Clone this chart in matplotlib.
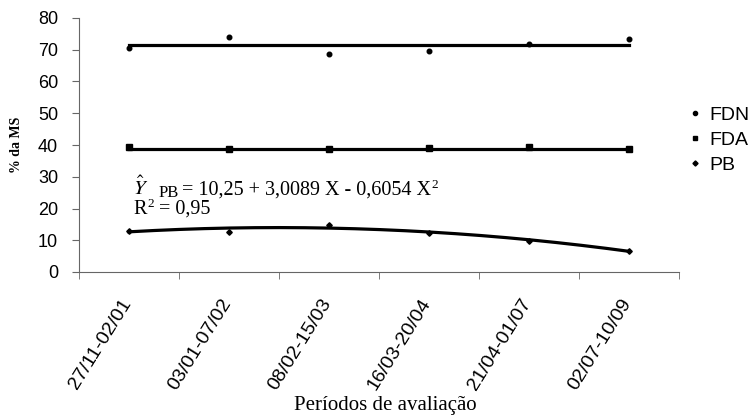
import matplotlib
matplotlib.use("Agg")
import matplotlib.pyplot as plt
from matplotlib.lines import Line2D
from matplotlib.transforms import ScaledTranslation, IdentityTransform
import numpy as np

plt.rcParams['font.family'] = ['Liberation Sans', 'DejaVu Sans']
plt.rcParams['mathtext.fontset'] = 'stix'

periods = ["27/11-02/01", "03/01-07/02", "08/02-15/03", "16/03-20/04", "21/04-01/07", "02/07-10/09"]
fdn = [70.6, 74.1, 68.8, 69.5, 71.7, 73.4]
fda = [39.5, 38.6, 38.7, 38.9, 39.3, 38.7]
pb = [13.0, 12.7, 14.7, 12.4, 9.9, 6.5]
fdn_mean = 71.4
fda_mean = 38.7
pb_coef = [10.25, 3.0089, -0.6054]
y_ticks = [0, 10, 20, 30, 40, 50, 60, 70, 80]
series_names = ['FDN', 'FDA', 'PB']

W, H = 751, 416
fig = plt.figure(figsize=(W/100, H/100), dpi=100)
ax = fig.add_axes([79/W, 144/H, 600/W, 254/H])

x = np.arange(len(periods))
ax.plot(x, fdn, 'o', color='black', ms=3.3, zorder=3)
ax.plot(x, fda, 's', color='black', ms=5, zorder=3)
ax.plot(x, pb, 'D', color='black', ms=2.8, zorder=3)

ax.plot([x[0], x[-1]], [fdn_mean, fdn_mean], color='black', lw=2.3)
ax.plot([x[0], x[-1]], [fda_mean, fda_mean], color='black', lw=2.3)
xs = np.linspace(1, len(periods), 200)
ys = pb_coef[0] + pb_coef[1]*xs + pb_coef[2]*xs**2
ax.plot(xs - 1, ys, color='black', lw=2.3)

ax.set_xlim(-0.5, len(periods) - 0.5)
ax.set_ylim(0, 80)
ax.set_yticks(y_ticks)
ax.set_xticks(x)
ax.set_xticks(np.arange(-0.5, len(periods)), minor=True)
ax.tick_params(axis='x', which='major', length=0, pad=17)
ax.tick_params(axis='x', which='minor', length=5, direction='out', color='#666666')
ax.tick_params(axis='y', length=5, direction='out', color='#666666', labelsize=13, pad=10)
ax.set_xticklabels(periods, rotation=58, ha='right', va='top', rotation_mode='anchor', fontsize=14)
off = ScaledTranslation(-9/100, 0, fig.dpi_scale_trans)
for lab in ax.get_xticklabels():
    lab.set_transform(lab.get_transform() + off)
for s in ['top', 'right']:
    ax.spines[s].set_visible(False)
for s in ['left', 'bottom']:
    ax.spines[s].set_color('#666666')

ax.set_ylabel('% da MS', fontfamily='Liberation Serif', fontweight='bold', fontsize=10)
ax.yaxis.set_label_coords((23-79)/600, 0.5)
ax.set_xlabel('Períodos de avaliação', fontfamily='Liberation Serif', fontsize=15)
ax.xaxis.set_label_coords((385-79)/600, (272-396)/254)

# regression equation, placed piece by piece in pixel coordinates
idt = IdentityTransform()
r = fig.canvas.get_renderer()
serif = 'Liberation Serif'
fs = 14.5
fig.text(133, H-195, r'$\hat{Y}$', transform=idt, fontsize=15, ha='left', va='baseline')
t2 = fig.text(159, H-197, 'PB', transform=idt, fontsize=12, family=serif, ha='left', va='baseline')
b2 = t2.get_window_extent(r)
t3 = fig.text(182, H-195, '= 10,25 + 3,0089 X - 0,6054 X', transform=idt, fontsize=fs,
              family=serif, ha='left', va='baseline')
b3 = t3.get_window_extent(r)
fig.text(b3.x1 + 0.5, H-188, '2', transform=idt, fontsize=9.5, family=serif, ha='left', va='baseline')
t5 = fig.text(133, H-214, 'R', transform=idt, fontsize=fs, family=serif, ha='left', va='baseline')
b5 = t5.get_window_extent(r)
t6 = fig.text(b5.x1 + 0.5, H-207, '2', transform=idt, fontsize=9.5, family=serif, ha='left', va='baseline')
b6 = t6.get_window_extent(r)
fig.text(b6.x1 + 0.5, H-214, ' = 0,95', transform=idt, fontsize=fs, family=serif, ha='left', va='baseline')

handles = [Line2D([], [], ls='none', marker='o', color='black', ms=3),
           Line2D([], [], ls='none', marker='s', color='black', ms=3.5),
           Line2D([], [], ls='none', marker='D', color='black', ms=2.6)]
fig.legend(handles, series_names, loc='center left', bbox_to_anchor=(689/W, (H-140)/H),
           frameon=False, handlelength=0.6, handletextpad=0.43, labelspacing=0.39, fontsize=14,
           borderaxespad=0, borderpad=0)

fig.savefig('out.png', dpi=100)
